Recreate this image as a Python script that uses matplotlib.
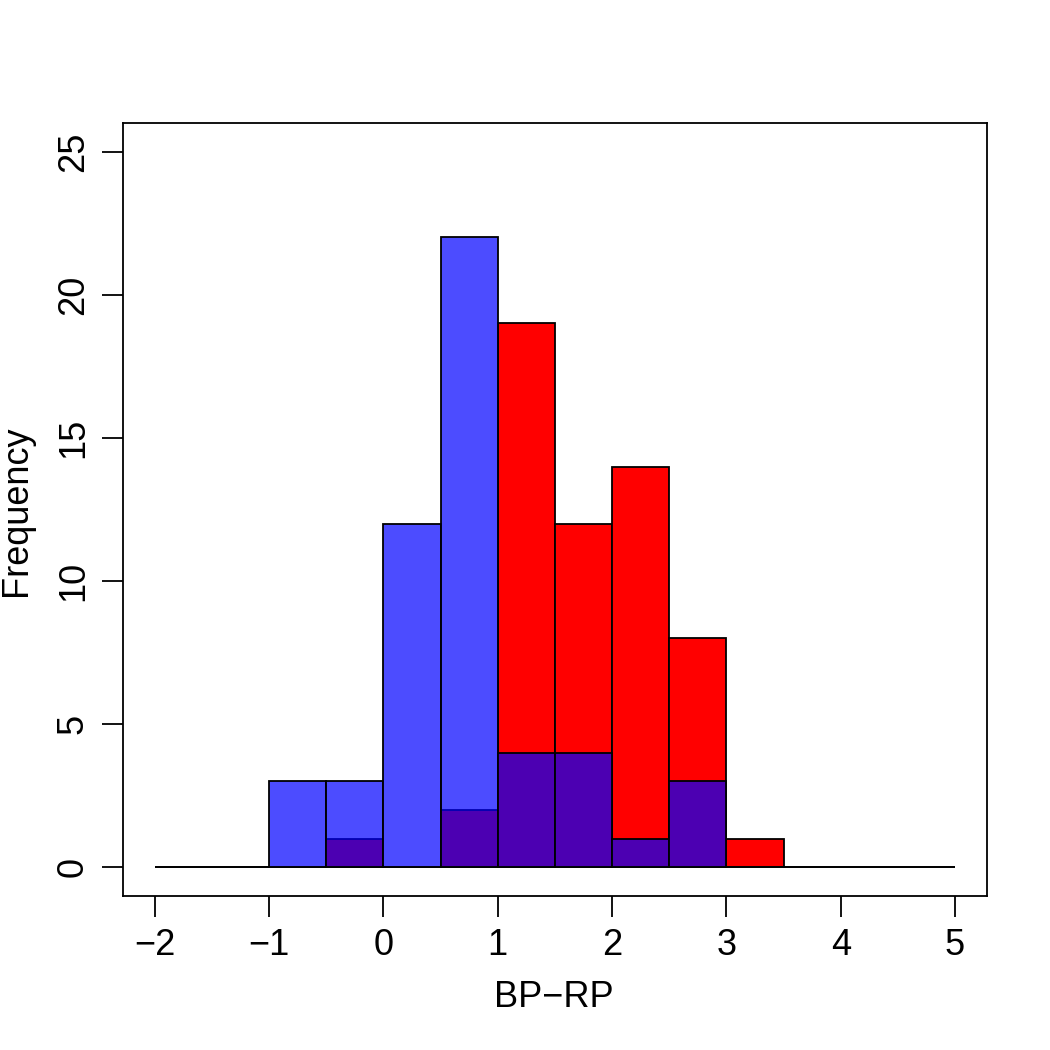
import numpy as np
import matplotlib
matplotlib.use('Agg')
import matplotlib.pyplot as plt

plt.rcParams['font.family'] = ['Liberation Sans', 'DejaVu Sans']

# histogram bins (BP-RP), width 0.5 from -2 to 5
edges = np.arange(-2, 5.01, 0.5)
red_counts = [0, 0, 0, 1, 0, 2, 19, 12, 14, 8, 1, 0, 0, 0]
blue_counts = [0, 0, 3, 3, 12, 22, 4, 4, 1, 3, 0, 0, 0, 0]

fig = plt.figure(figsize=(10.5, 10.5), dpi=100)
ax = fig.add_axes([0.117, 0.1467, 0.823, 0.7362])

ax.bar(edges[:-1], red_counts, width=0.5, align='edge', color='red',
       edgecolor='black', linewidth=1.3)
ax.bar(edges[:-1], blue_counts, width=0.5, align='edge', color=(0, 0, 1, 0.7),
       edgecolor='black', linewidth=1.3)

ax.set_xlim(-2.28, 5.28)
ax.set_ylim(-1, 26)
ax.set_xticks(range(-2, 6))
ax.set_xticklabels([str(v).replace('-', '\u2212') for v in range(-2, 6)])
ax.set_yticks(range(0, 26, 5))

for s in ax.spines.values():
    s.set_linewidth(1.3)

ax.tick_params(direction='out', length=15, width=1.3, labelsize=26, pad=8)
plt.setp(ax.get_yticklabels(), rotation=90, va='center')

fig.text(0.527, 0.05, 'BP\u2212RP', ha='center', va='center', fontsize=26)
fig.text(0.016, 0.514, 'Frequency', ha='center', va='center',
         rotation=90, fontsize=26)

fig.savefig('out.png', dpi=100)
